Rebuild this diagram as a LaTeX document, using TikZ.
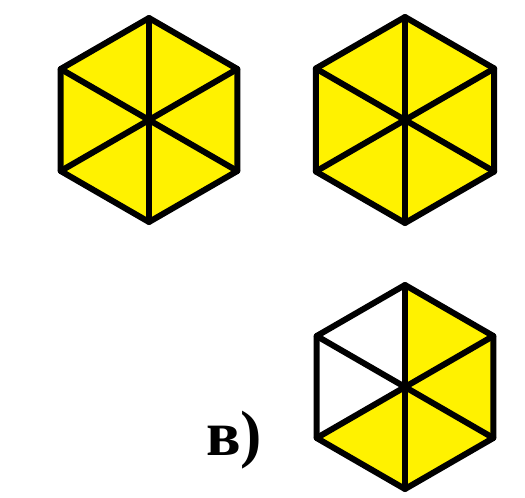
\documentclass[tikz,border=0pt]{standalone}
\usepackage{fontspec}
\setmainfont{Liberation Serif}
\tikzset{vora/.style={line width=6pt, line join=round, line cap=round},
         groc/.style={fill=yellow}}
\begin{document}
\begin{tikzpicture}[x=1pt,y=-1pt]
        \useasboundingbox (0,0) rectangle (525,498);
        % Hexagon esquerre (tot groc)
        \begin{scope}[shift={(149,120)}]
            \coordinate (c1) at (0,0);
            \fill[groc] (30:102) -- (90:102) -- (150:102) -- (210:102) -- (270:102) -- (330:102) -- cycle;
            \draw[vora] (30:102) -- (90:102) -- (150:102) -- (210:102) -- (270:102) -- (330:102) -- cycle;
            \foreach \a in {30,90,150} \draw[vora] (\a:102) -- (\a+180:102);
        \end{scope}
        
        % Hexagon dret (tot groc)
        \begin{scope}[shift={(405,120)}]
            \coordinate (c2) at (0,0);
            \fill[groc] (30:103) -- (90:103) -- (150:103) -- (210:103) -- (270:103) -- (330:103) -- cycle;
            \draw[vora] (30:103) -- (90:103) -- (150:103) -- (210:103) -- (270:103) -- (330:103) -- cycle;
            \foreach \a in {30,90,150} \draw[vora] (\a:103) -- (\a+180:103);
        \end{scope}
        
        % Hexagon de baix (dos triangles blancs)
        \begin{scope}[shift={(405,387)}]
            \coordinate (c3) at (0,0);
            \fill[groc] (c3) -- (150:102) -- (90:102) -- (30:102) -- (330:102) -- (270:102) -- cycle;
            \draw[vora] (30:102) -- (90:102) -- (150:102) -- (210:102) -- (270:102) -- (330:102) -- cycle;
            \foreach \a in {30,90,150} \draw[vora] (\a:102) -- (\a+180:102);
        \end{scope}
        \node (lletra) at (234,440) {\fontsize{64}{64}\selectfont\bfseries в)};
    \end{tikzpicture}
\end{document}
